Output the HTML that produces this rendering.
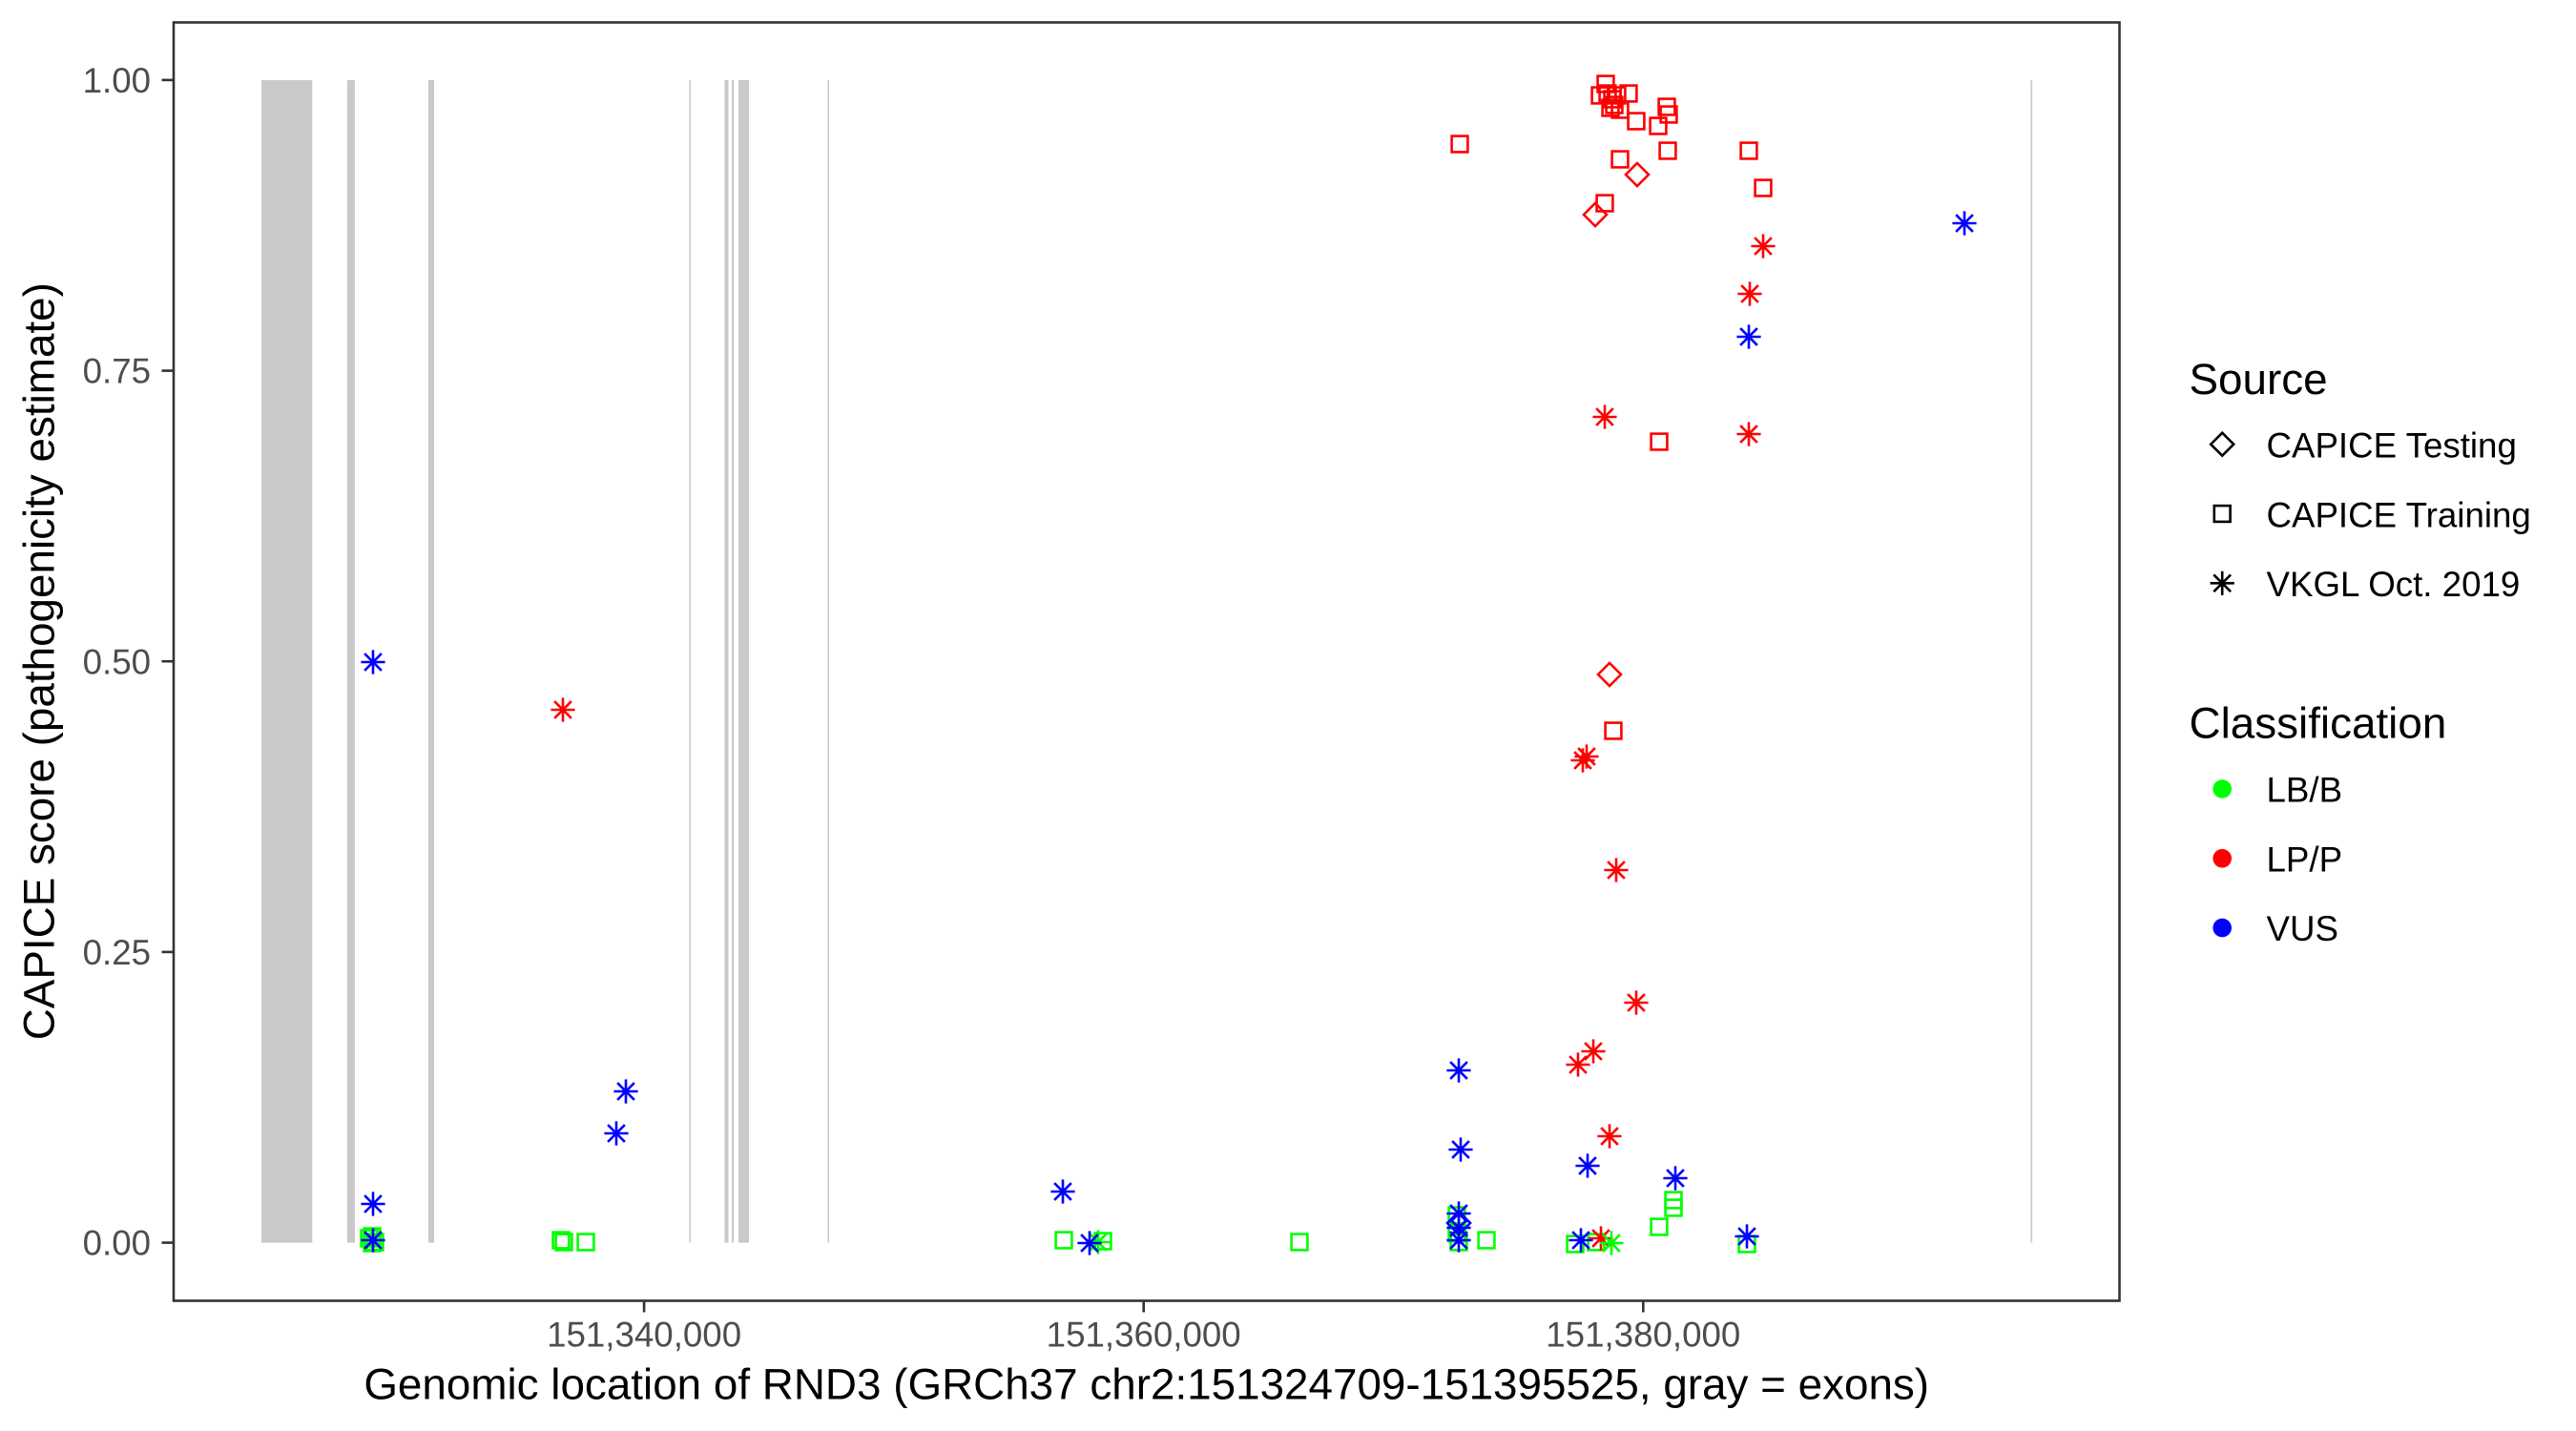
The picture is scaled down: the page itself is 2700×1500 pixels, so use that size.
<!DOCTYPE html>
<html>
<head>
<meta charset="utf-8">
<style>
  html, body { margin: 0; padding: 0; background: #ffffff; }
  body { width: 2700px; height: 1500px; overflow: hidden; }
  svg { display: block; }
  text { font-family: "Liberation Sans", Arial, sans-serif; }
</style>
</head>
<body>
<svg width="2700" height="1500" viewBox="0 0 2700 1500" xmlns="http://www.w3.org/2000/svg">
  <defs>
    <rect id="sq" x="-8.4" y="-8.4" width="16.8" height="16.8"/>
    <path id="dm" d="M0,-12 L12,0 L0,12 L-12,0 Z"/>
    <path id="st" d="M-12.6,0 H12.6 M0,-12.6 V12.6 M-8.9,-8.9 L8.9,8.9 M-8.9,8.9 L8.9,-8.9"/>
  </defs>
  <rect x="0" y="0" width="2700" height="1500" fill="#ffffff"/>

  <!-- exons -->
  <g fill="#c9c9c9">
    <rect x="274" y="84" width="53.3" height="1218.6"/>
    <rect x="364" y="84" width="8" height="1218.6"/>
    <rect x="449" y="84" width="6" height="1218.6"/>
    <rect x="722.5" y="84" width="1.6" height="1218.6"/>
    <rect x="759.5" y="84" width="4" height="1218.6"/>
    <rect x="767" y="84" width="2" height="1218.6"/>
    <rect x="774" y="84" width="11" height="1218.6"/>
    <rect x="867.5" y="84" width="1.6" height="1218.6"/>
    <rect x="2128.5" y="84" width="1.6" height="1218.6"/>
  </g>

  <!-- green (LB/B) -->
  <g fill="none" stroke="#00ff00" stroke-width="2.6">
    <use href="#sq" x="387" y="1298"/>
    <use href="#sq" x="393" y="1302"/>
    <use href="#sq" x="390" y="1303"/>
    <use href="#sq" x="390" y="1296"/>
    <use href="#sq" x="588" y="1300"/>
    <use href="#sq" x="591" y="1302"/>
    <use href="#sq" x="614" y="1302"/>
    <use href="#sq" x="1115" y="1300"/>
    <use href="#sq" x="1156" y="1301"/>
    <use href="#sq" x="1362" y="1302"/>
    <use href="#sq" x="1527" y="1274"/>
    <use href="#sq" x="1527" y="1293"/>
    <use href="#sq" x="1529" y="1302"/>
    <use href="#sq" x="1558" y="1300"/>
    <use href="#sq" x="1651" y="1304"/>
    <use href="#sq" x="1673" y="1302"/>
    <use href="#sq" x="1739" y="1286"/>
    <use href="#sq" x="1754" y="1258"/>
    <use href="#sq" x="1754" y="1266"/>
    <use href="#sq" x="1831" y="1304"/>
    <use href="#st" x="390" y="1300"/>
    <use href="#st" x="1151" y="1302"/>
  </g>

  <!-- red (LP/P) -->
  <g fill="none" stroke="#ff0000" stroke-width="2.6">
    <use href="#sq" x="1530" y="151"/>
    <use href="#sq" x="1683" y="88"/>
    <use href="#sq" x="1677" y="100"/>
    <use href="#sq" x="1685" y="98"/>
    <use href="#sq" x="1690" y="104"/>
    <use href="#sq" x="1692" y="110"/>
    <use href="#sq" x="1688" y="113"/>
    <use href="#sq" x="1695" y="100"/>
    <use href="#sq" x="1707" y="98"/>
    <use href="#sq" x="1698" y="115"/>
    <use href="#sq" x="1715" y="127"/>
    <use href="#sq" x="1747" y="112"/>
    <use href="#sq" x="1749" y="120"/>
    <use href="#sq" x="1738" y="132"/>
    <use href="#sq" x="1748" y="158"/>
    <use href="#sq" x="1698" y="167"/>
    <use href="#sq" x="1682" y="213"/>
    <use href="#sq" x="1833" y="158"/>
    <use href="#sq" x="1848" y="197"/>
    <use href="#sq" x="1739" y="463"/>
    <use href="#sq" x="1691" y="766"/>
    <use href="#dm" x="1716" y="183"/>
    <use href="#dm" x="1672" y="225"/>
    <use href="#dm" x="1687" y="707"/>
    <use href="#st" x="1848" y="258"/>
    <use href="#st" x="1834" y="308"/>
    <use href="#st" x="1682" y="437"/>
    <use href="#st" x="1833" y="455"/>
    <use href="#st" x="1663" y="793"/>
    <use href="#st" x="1659" y="797"/>
    <use href="#st" x="1694" y="912"/>
    <use href="#st" x="1715" y="1051"/>
    <use href="#st" x="1670" y="1102"/>
    <use href="#st" x="1654" y="1116"/>
    <use href="#st" x="1687" y="1191"/>
    <use href="#st" x="1678" y="1298"/>
    <use href="#st" x="590" y="744"/>
  </g>

  <!-- blue (VUS) -->
  <g fill="none" stroke="#0000ff" stroke-width="2.6">
    <use href="#st" x="1833" y="353"/>
    <use href="#st" x="2059" y="234"/>
    <use href="#st" x="391" y="694"/>
    <use href="#st" x="391" y="1262"/>
    <use href="#st" x="391" y="1300"/>
    <use href="#st" x="656" y="1144"/>
    <use href="#st" x="646" y="1188"/>
    <use href="#st" x="1114" y="1249"/>
    <use href="#st" x="1142" y="1303"/>
    <use href="#st" x="1529" y="1122"/>
    <use href="#st" x="1531" y="1205"/>
    <use href="#st" x="1529" y="1272"/>
    <use href="#st" x="1529" y="1287"/>
    <use href="#st" x="1529" y="1300"/>
    <use href="#dm" x="1529" y="1282"/>
    <use href="#st" x="1664" y="1222"/>
    <use href="#st" x="1756" y="1235"/>
    <use href="#st" x="1657" y="1300"/>
    <use href="#st" x="1831" y="1296"/>
  </g>
  <g fill="none" stroke="#00ff00" stroke-width="2.6">
    <use href="#st" x="1689" y="1303"/>
  </g>

  <!-- panel border -->
  <rect x="182" y="23.5" width="2039.5" height="1340" fill="none" stroke="#333333" stroke-width="2.6"/>

  <!-- ticks -->
  <g stroke="#333333" stroke-width="2.6">
    <line x1="169.5" y1="83.9" x2="182" y2="83.9"/>
    <line x1="169.5" y1="388.6" x2="182" y2="388.6"/>
    <line x1="169.5" y1="693.2" x2="182" y2="693.2"/>
    <line x1="169.5" y1="997.9" x2="182" y2="997.9"/>
    <line x1="169.5" y1="1302.6" x2="182" y2="1302.6"/>
    <line x1="675.1" y1="1363.5" x2="675.1" y2="1375.5"/>
    <line x1="1198.7" y1="1363.5" x2="1198.7" y2="1375.5"/>
    <line x1="1722.3" y1="1363.5" x2="1722.3" y2="1375.5"/>
  </g>
  <g fill="#4d4d4d" font-size="36.7" text-anchor="end">
    <text x="158" y="97">1.00</text>
    <text x="158" y="401.7">0.75</text>
    <text x="158" y="706.3">0.50</text>
    <text x="158" y="1011">0.25</text>
    <text x="158" y="1315.7">0.00</text>
  </g>
  <g fill="#4d4d4d" font-size="36.7" text-anchor="middle">
    <text x="675.1" y="1411.7">151,340,000</text>
    <text x="1198.7" y="1411.7">151,360,000</text>
    <text x="1722.3" y="1411.7">151,380,000</text>
  </g>

  <!-- axis titles -->
  <text x="1201.7" y="1466.5" font-size="45.8" fill="#000000" text-anchor="middle">Genomic location of RND3 (GRCh37 chr2:151324709-151395525, gray = exons)</text>
  <text transform="translate(56.5,693.2) rotate(-90)" font-size="45.8" fill="#000000" text-anchor="middle">CAPICE score (pathogenicity estimate)</text>

  <!-- legend: Source -->
  <text x="2294.5" y="413" font-size="45.8" fill="#000000">Source</text>
  <g fill="none" stroke="#000000" stroke-width="2.6">
    <use href="#dm" x="2329.2" y="465.7"/>
    <use href="#sq" x="2329.2" y="538.5"/>
    <use href="#st" x="2329.2" y="611.3"/>
  </g>
  <g font-size="36.7" fill="#000000">
    <text x="2375.5" y="479.5">CAPICE Testing</text>
    <text x="2375.5" y="552.3">CAPICE Training</text>
    <text x="2375.5" y="625.1">VKGL Oct. 2019</text>
  </g>

  <!-- legend: Classification -->
  <text x="2294.5" y="773.7" font-size="45.8" fill="#000000">Classification</text>
  <circle cx="2329.2" cy="827" r="9.8" fill="#00ff00"/>
  <circle cx="2329.2" cy="899.8" r="9.8" fill="#ff0000"/>
  <circle cx="2329.2" cy="972.6" r="9.8" fill="#0000ff"/>
  <g font-size="36.7" fill="#000000">
    <text x="2375.5" y="840.5">LB/B</text>
    <text x="2375.5" y="913.3">LP/P</text>
    <text x="2375.5" y="986.1">VUS</text>
  </g>
</svg>
</body>
</html>
